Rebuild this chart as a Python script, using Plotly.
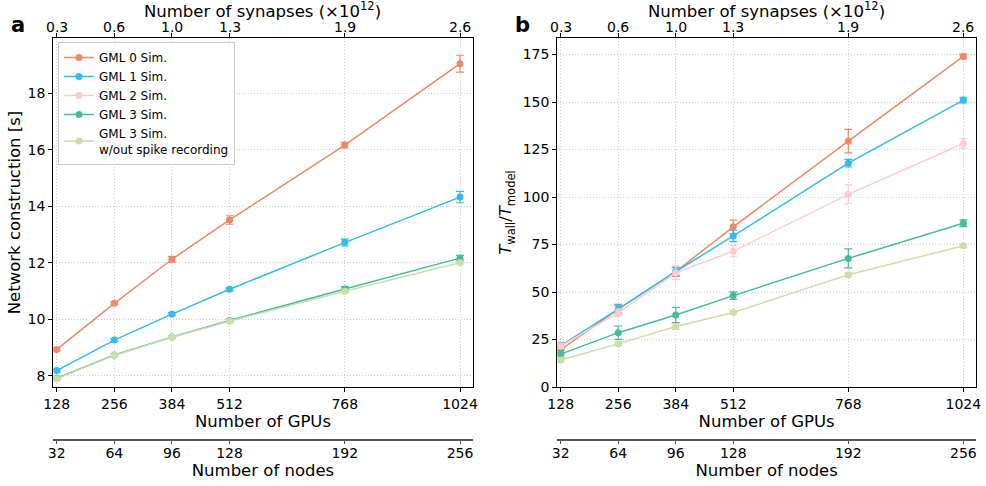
import plotly.graph_objects as go

# GPU counts and the matching node counts / synapse totals
gpus = [128, 256, 384, 512, 768, 1024]
nodes = [32, 64, 96, 128, 192, 256]
synapses = ["0.3", "0.6", "1.0", "1.3", "1.9", "2.6"]

# Network construction time [s]
constr_gml0 = [8.94, 10.57, 12.13, 13.52, 16.17, 19.05]
constr_gml0_err = [0.05, 0.05, 0.10, 0.15, 0.10, 0.30]
constr_gml1 = [8.19, 9.27, 10.19, 11.07, 12.72, 14.33]
constr_gml1_err = [0.05, 0.05, 0.05, 0.05, 0.12, 0.20]
constr_gml3 = [7.92, 8.74, 9.38, 9.96, 11.08, 12.17]
constr_gml3_err = [0.03, 0.05, 0.05, 0.05, 0.08, 0.10]
constr_gml3_nospk = [7.90, 8.73, 9.37, 9.94, 11.00, 12.01]
constr_gml3_nospk_err = [0.03, 0.05, 0.05, 0.05, 0.05, 0.05]

# Real-time factor T_wall / T_model
rtf_gml0 = [19.6, 41.0, 60.7, 84.3, 129.4, 174.0]
rtf_gml0_err = [1.5, 2.0, 2.5, 3.5, 6.2, 1.2]
rtf_gml1 = [21.8, 41.0, 60.8, 79.5, 117.8, 151.0]
rtf_gml1_err = [1.5, 2.5, 2.0, 3.0, 2.0, 1.5]
rtf_gml2 = [21.5, 39.2, 60.1, 71.5, 101.4, 128.2]
rtf_gml2_err = [1.5, 2.0, 3.5, 3.0, 5.0, 2.5]
rtf_gml3 = [17.3, 28.6, 37.9, 48.1, 67.7, 86.2]
rtf_gml3_err = [2.0, 3.5, 4.0, 2.0, 5.0, 1.8]
rtf_gml3_nospk = [14.2, 22.7, 31.8, 39.2, 59.1, 74.3]
rtf_gml3_nospk_err = [1.0, 1.0, 1.5, 1.0, 1.0, 0.8]

names = ["GML 0 Sim.", "GML 1 Sim.", "GML 2 Sim.", "GML 3 Sim.",
         "GML 3 Sim.<br>w/out spike recording"]
colors = ["#EE8866", "#33BBEE", "#FFCCCC", "#44BB99", "#CCDDAA"]

W, H = 986, 486
FONT = "DejaVu Sans"
fig = go.Figure()


def add_series(y, err, idx, xa, ya, legend):
    fig.add_trace(go.Scatter(
        x=gpus, y=y, name=names[idx], mode="lines+markers",
        line=dict(color=colors[idx], width=1.5),
        marker=dict(color=colors[idx], size=7),
        error_y=dict(type="data", array=err, color=colors[idx],
                     thickness=1.2, width=4),
        xaxis=xa, yaxis=ya, showlegend=legend, legendgroup=names[idx],
    ))


# panel a: network construction
add_series(constr_gml0, constr_gml0_err, 0, "x", "y", False)
add_series(constr_gml1, constr_gml1_err, 1, "x", "y", False)
add_series(constr_gml3, constr_gml3_err, 3, "x", "y", False)
add_series(constr_gml3_nospk, constr_gml3_nospk_err, 4, "x", "y", False)

# panel b: real-time factor
add_series(rtf_gml0, rtf_gml0_err, 0, "x4", "y2", True)
add_series(rtf_gml1, rtf_gml1_err, 1, "x4", "y2", True)
add_series(rtf_gml2, rtf_gml2_err, 2, "x4", "y2", True)
add_series(rtf_gml3, rtf_gml3_err, 3, "x4", "y2", True)
add_series(rtf_gml3_nospk, rtf_gml3_nospk_err, 4, "x4", "y2", True)

xrange = [120.4, 1052.2]
dom_a = [53.3 / W, 472.7 / W]
dom_b = [557.3 / W, 976.0 / W]
ydom = [1 - 387 / H, 1 - 38 / H]

tickfont = dict(family=FONT, size=14, color="black")
titlefont = dict(family=FONT, size=16.5, color="black")
GRID = "#cccccc"
GRIDDASH = "1px,2px"


def gpu_axis(domain, anchor):
    return dict(domain=domain, anchor=anchor, range=xrange, automargin=False,
                tickvals=gpus, ticktext=[str(g) for g in gpus],
                showline=True, linecolor="black", linewidth=1.2, mirror=True,
                ticks="outside", ticklen=4, tickcolor="black",
                showgrid=True, gridcolor=GRID, griddash=GRIDDASH,
                gridwidth=1, zeroline=False, tickfont=tickfont,
                title=dict(text="Number of GPUs", font=titlefont, standoff=1))


def syn_axis(over, anchor):
    # top axis: tick marks only, labels are placed as annotations below
    return dict(overlaying=over, anchor=anchor, side="top", range=xrange,
                automargin=False, tickvals=gpus, showticklabels=False,
                ticks="outside", ticklen=4, tickcolor="black",
                showgrid=False, zeroline=False)


def node_axis(over):
    return dict(overlaying=over, anchor="free", position=46 / H,
                automargin=False, range=[r / 4 for r in xrange],
                tickvals=nodes, ticktext=[str(n) for n in nodes],
                showline=True, linecolor="#555555", linewidth=1.5,
                ticks="outside", ticklen=3, tickcolor="#555555",
                showgrid=False, zeroline=False, tickfont=tickfont,
                ticklabelstandoff=-3,
                title=dict(text="Number of nodes", font=titlefont, standoff=0))


def val_axis(domain, anchor, rng, tv, title, standoff):
    return dict(domain=domain, anchor=anchor, range=rng, tickvals=tv,
                automargin=False,
                showline=True, linecolor="black", linewidth=1.2, mirror=True,
                ticks="outside", ticklen=4, tickcolor="black",
                showgrid=True, gridcolor=GRID, griddash=GRIDDASH,
                gridwidth=1, zeroline=False, tickfont=tickfont,
                title=dict(text=title, font=titlefont, standoff=standoff))


fig.update_layout(
    width=W, height=H, margin=dict(l=0, r=0, t=0, b=0),
    paper_bgcolor="white", plot_bgcolor="white",
    font=dict(family=FONT, color="black"),
    xaxis=gpu_axis(dom_a, "y"),
    xaxis2=syn_axis("x", "y"),
    xaxis3=node_axis("x"),
    xaxis4=gpu_axis(dom_b, "y2"),
    xaxis5=syn_axis("x4", "y2"),
    xaxis6=node_axis("x4"),
    yaxis=val_axis(ydom, "x", [7.61, 19.96], [8, 10, 12, 14, 16, 18],
                   "Network construction [s]", 2),
    yaxis2=val_axis(ydom, "x4", [0, 183.7], [0, 25, 50, 75, 100, 125, 150, 175],
                    "<i>T</i><sub>wall</sub>/<i>T</i><sub>model</sub>", 6),
    legend=dict(x=58 / W, y=1 - 42 / H, xanchor="left", yanchor="top",
                bgcolor="rgba(255,255,255,0.85)", bordercolor="#cccccc",
                borderwidth=1, font=dict(family=FONT, size=12, color="black"),
                tracegroupgap=0, itemwidth=30),
)

# invisible traces so the overlay axes are drawn
for xa, ya in [("x2", "y"), ("x3", "y"), ("x5", "y2"), ("x6", "y2")]:
    fig.add_trace(go.Scatter(x=[gpus[0]] if xa in ("x2", "x5") else [nodes[0]],
                             y=[None], xaxis=xa, yaxis=ya, showlegend=False,
                             hoverinfo="skip"))

# synapse tick labels and top-axis title for each panel
for xref, dom in [("x", dom_a), ("x4", dom_b)]:
    for g, s in zip(gpus, synapses):
        fig.add_annotation(text=s, x=g, xref=xref, y=1 - 27 / H, yref="paper",
                           showarrow=False, font=tickfont,
                           xanchor="center", yanchor="middle")
    fig.add_annotation(text="Number of synapses (×10<sup>12</sup>)",
                       x=(dom[0] + dom[1]) / 2, xref="paper",
                       y=1 - 10 / H, yref="paper", showarrow=False,
                       font=titlefont, xanchor="center", yanchor="middle")

for label, xpos in [("a", 18), ("b", 522)]:
    fig.add_annotation(text="<b>%s</b>" % label, x=xpos / W, y=1 - 25 / H,
                       xref="paper", yref="paper", showarrow=False,
                       font=dict(family=FONT, size=21, color="black"),
                       xanchor="center", yanchor="middle")

fig.write_html("out.html")
